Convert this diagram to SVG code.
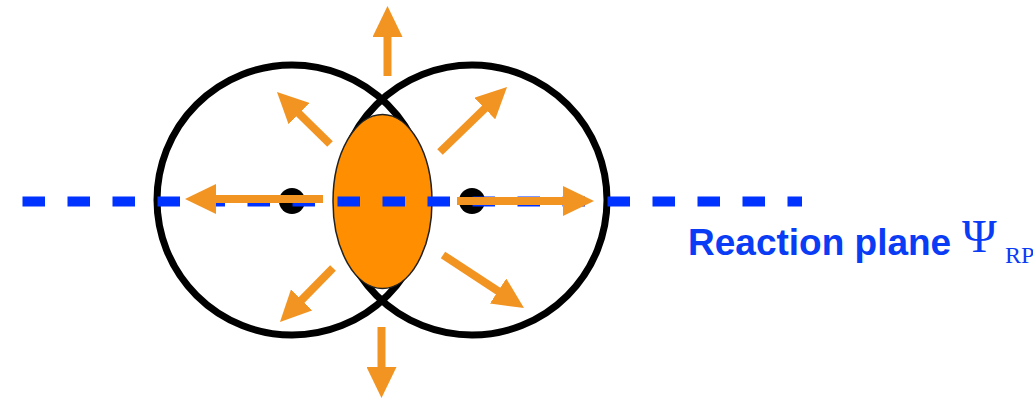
<svg xmlns="http://www.w3.org/2000/svg" width="1033" height="399" viewBox="0 0 1033 399">
  <style>
    .nucleus { fill: none; stroke: #000; stroke-width: 7; }
    .dot { fill: #000; }
    .overlap { fill: #FF8E00; stroke: #222; stroke-width: 1.5; }
    .plane { stroke: #0033FF; stroke-width: 10; stroke-dasharray: 22.5 22.5; fill: none; }
    .flow { stroke: #F29421; stroke-width: 8; fill: none; marker-end: url(#head); }
    .label { fill: #0A3BF5; font-family: "Liberation Sans", Arial, sans-serif; font-weight: bold; font-size: 37px; }
    .sym { fill: #0A3BF5; font-family: "Liberation Serif", "Times New Roman", serif; }
  </style>
  <defs>
    <marker id="head" markerUnits="userSpaceOnUse" viewBox="-1 -15 31 30" refX="0" refY="0" markerWidth="31" markerHeight="30" orient="auto">
      <path d="M-1,-15 L30,0 L-1,15 Z" fill="#F29421"/>
    </marker>
  </defs>
  <rect width="1033" height="399" fill="#fff"/>
  <g id="nucleus-left">
    <circle class="nucleus" cx="292" cy="200" r="135"/>
    <circle class="dot" cx="292" cy="201" r="13"/>
  </g>
  <g id="nucleus-right">
    <circle class="nucleus" cx="472" cy="200" r="135"/>
    <circle class="dot" cx="472" cy="201" r="13"/>
  </g>
  <g id="overlap">
    <ellipse class="overlap" cx="382.5" cy="201.5" rx="49.5" ry="87"/>
  </g>
  <g id="reaction-plane">
    <line class="plane" x1="22.5" y1="201.5" x2="802" y2="201.5"/>
    <text class="label" x="688" y="255">Reaction plane</text>
    <text class="sym" x="962" y="252" font-size="47">Ψ</text>
    <text class="sym" x="1005" y="263" font-size="24">RP</text>
  </g>
  <g id="connectors">
    <line class="flow" x1="387.5" y1="76" x2="387.5" y2="36"/>
    <line class="flow" x1="381.5" y1="327" x2="381.5" y2="368"/>
    <line class="flow" x1="323" y1="199" x2="215" y2="199"/>
    <line class="flow" x1="457" y1="201" x2="564" y2="201"/>
    <line class="flow" x1="330" y1="144" x2="298.4" y2="113"/>
    <line class="flow" x1="440" y1="152" x2="485.5" y2="107.9"/>
    <line class="flow" x1="333" y1="268" x2="301" y2="300.6"/>
    <line class="flow" x1="443" y1="255" x2="498.9" y2="291.6"/>
  </g>
</svg>
